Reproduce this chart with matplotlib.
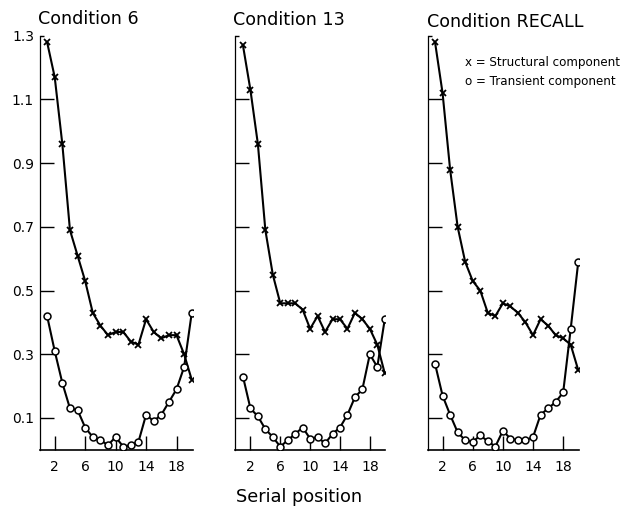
import matplotlib
matplotlib.use("Agg")
import matplotlib.pyplot as plt
from matplotlib.ticker import FixedLocator, NullFormatter, FixedFormatter

positions = list(range(1, 21))

titles = ["Condition 6", "Condition 13", "Condition RECALL"]

structural_6 = [1.28, 1.17, 0.96, 0.69, 0.61, 0.53, 0.43, 0.39, 0.36, 0.37,
                0.37, 0.34, 0.33, 0.41, 0.37, 0.35, 0.36, 0.36, 0.30, 0.22]
transient_6 = [0.42, 0.31, 0.21, 0.13, 0.125, 0.07, 0.04, 0.03, 0.015, 0.04,
               0.01, 0.015, 0.025, 0.11, 0.09, 0.11, 0.15, 0.19, 0.26, 0.43]

structural_13 = [1.27, 1.13, 0.96, 0.69, 0.55, 0.46, 0.46, 0.46, 0.44, 0.38,
                 0.42, 0.37, 0.41, 0.41, 0.38, 0.43, 0.41, 0.38, 0.33, 0.24]
transient_13 = [0.23, 0.13, 0.105, 0.065, 0.04, 0.01, 0.03, 0.05, 0.07, 0.035,
                0.04, 0.02, 0.05, 0.07, 0.11, 0.165, 0.19, 0.30, 0.26, 0.41]

structural_recall = [1.28, 1.12, 0.88, 0.70, 0.59, 0.53, 0.50, 0.43, 0.42, 0.46,
                     0.45, 0.43, 0.40, 0.36, 0.41, 0.39, 0.36, 0.35, 0.33, 0.25]
transient_recall = [0.27, 0.17, 0.11, 0.055, 0.03, 0.025, 0.045, 0.027, 0.01, 0.06,
                    0.035, 0.03, 0.03, 0.04, 0.11, 0.13, 0.15, 0.18, 0.38, 0.59]

structural = [structural_6, structural_13, structural_recall]
transient = [transient_6, transient_13, transient_recall]

x_ticks = [2, 6, 10, 14, 18]
y_ticks = [0.1, 0.3, 0.5, 0.7, 0.9, 1.1]
y_tick_labels = ["0.1", "0.3", "0.5", "0.7", "0.9", "1.1"]

legend_lines = ["x = Structural component", "o = Transient component"]
x_label = "Serial position"

plt.rcParams['font.family'] = ['DejaVu Sans']

W, H = 635, 513
fig = plt.figure(figsize=(W / 100, H / 100), dpi=100)

lefts = [39.5, 235.5, 427.5]
widths = [153, 150, 151.5]
bottom_px = 449.8
height_px = 414
title_base = [24, 25, 27]
title_x = [37.7, 233, 427]

for i in range(3):
    ax = fig.add_axes([lefts[i] / W, (H - bottom_px) / H, widths[i] / W, height_px / H])
    ax.plot(positions, structural[i], color='black', lw=1.5, marker='x',
            markersize=4.5, markeredgewidth=1.3, zorder=3)
    ax.plot(positions, transient[i], color='black', lw=1.5, marker='o',
            markersize=5, markerfacecolor='white', markeredgecolor='black',
            markeredgewidth=1.1, zorder=4)
    ax.set_xlim(0, 20.1)
    ax.set_ylim(0, 1.3)
    for s in ['top', 'right']:
        ax.spines[s].set_visible(False)
    ax.spines['left'].set_linewidth(0.9)
    ax.spines['bottom'].set_linewidth(1.2)
    ax.set_xticks(x_ticks)
    ax.set_xticklabels([str(t) for t in x_ticks])
    ax.set_yticks(y_ticks)
    ax.yaxis.set_minor_locator(FixedLocator([1.3]))
    ax.tick_params(axis='both', which='major', direction='in', length=10, width=1.0,
                   labelsize=10, color='black')
    ax.tick_params(axis='y', which='minor', direction='in', length=3, width=1.0)
    ax.tick_params(axis='x', which='major', pad=7)
    ax.tick_params(axis='y', which='both', pad=4)
    if i == 0:
        ax.set_yticklabels(y_tick_labels)
        ax.yaxis.set_minor_formatter(FixedFormatter(["1.3"]))
        ax.tick_params(axis='y', which='minor', labelsize=10)
    else:
        ax.set_yticklabels([])
        ax.yaxis.set_minor_formatter(NullFormatter())
    ax.set_facecolor('none')
    fig.text(title_x[i] / W, (H - title_base[i]) / H, titles[i], fontsize=12.6,
             ha='left', va='baseline')

fig.text(465 / W, (H - 62.5) / H, legend_lines[0], fontsize=8.6, ha='left', va='center')
fig.text(465 / W, (H - 81) / H, legend_lines[1], fontsize=8.6, ha='left', va='center')

fig.text(299 / W, (H - 496.5) / H, x_label, fontsize=12.8, ha='center', va='center')

fig.savefig("out.png", dpi=100)
